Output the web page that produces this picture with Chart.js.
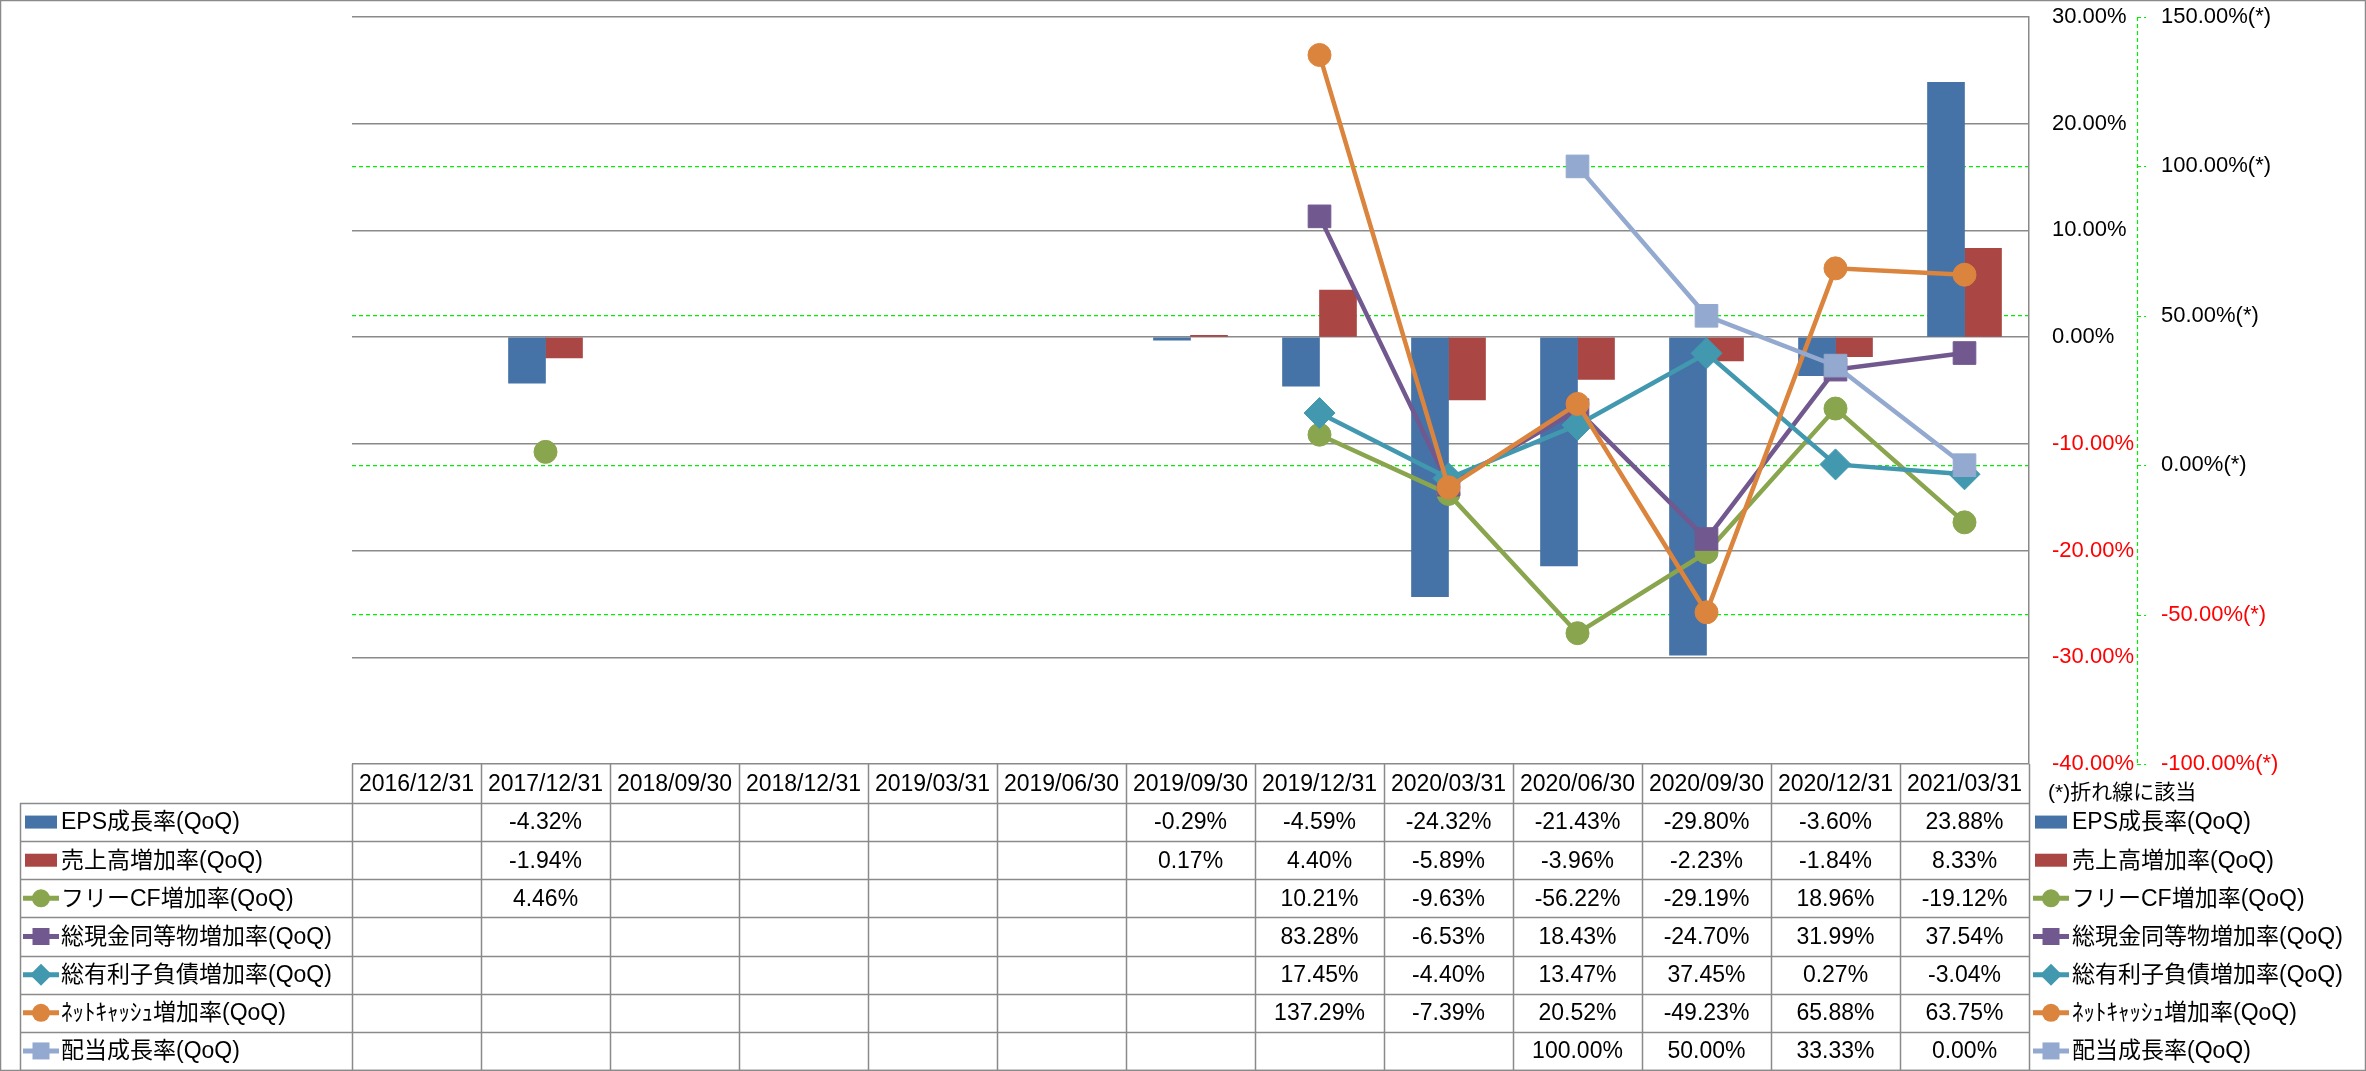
<!DOCTYPE html>
<html>
<head>
<meta charset="utf-8">
<script src="https://cdn.jsdelivr.net/npm/chart.js@4.4.0/dist/chart.umd.min.js"></script>
<style>
  html, body { margin: 0; padding: 0; background: #fff; overflow: hidden; }
</style>
</head>
<body>
<canvas id="growthChart" width="2366" height="1071" style="width:2366px; height:1071px"></canvas>
<script>
const periods = ['2016/12/31', '2017/12/31', '2018/09/30', '2018/12/31', '2019/03/31', '2019/06/30', '2019/09/30', '2019/12/31', '2020/03/31', '2020/06/30', '2020/09/30', '2020/12/31', '2021/03/31'];

// bars (left scale, %)
const epsGrowth = [null, -4.32, null, null, null, null, -0.29, -4.59, -24.32, -21.43, -29.80, -3.60, 23.88];
const salesGrowth = [null, -1.94, null, null, null, null, 0.17, 4.40, -5.89, -3.96, -2.23, -1.84, 8.33];

// lines (right scale, %)
const freeCfGrowth = [null, 4.46, null, null, null, null, null, 10.21, -9.63, -56.22, -29.19, 18.96, -19.12];
const cashGrowth = [null, null, null, null, null, null, null, 83.28, -6.53, 18.43, -24.70, 31.99, 37.54];
const debtGrowth = [null, null, null, null, null, null, null, 17.45, -4.40, 13.47, 37.45, 0.27, -3.04];
const netCashGrowth = [null, null, null, null, null, null, null, 137.29, -7.39, 20.52, -49.23, 65.88, 63.75];
const dividendGrowth = [null, null, null, null, null, null, null, null, null, 100.00, 50.00, 33.33, 0.00];

const barTicks = { min: -40, max: 30, step: 10 };
const lineTicks = { min: -100, max: 150, step: 50 };

const LATIN = "'Liberation Sans', 'Noto Sans CJK JP', sans-serif";
const GRAY = '#8a8a8a';
const GREEN = '#00ee00';
const CLEAR = 'rgba(0,0,0,0)';

const series = [
  { name: 'EPS成長率(QoQ)', data: epsGrowth, color: '#4572a7', kind: 'bar' },
  { name: '売上高増加率(QoQ)', data: salesGrowth, color: '#aa4643', kind: 'bar' },
  { name: 'フリーCF増加率(QoQ)', data: freeCfGrowth, color: '#89a54e', kind: 'line', style: 'circle' },
  { name: '総現金同等物増加率(QoQ)', data: cashGrowth, color: '#71588f', kind: 'line', style: 'rect' },
  { name: '総有利子負債増加率(QoQ)', data: debtGrowth, color: '#4198af', kind: 'line', style: 'rectRot' },
  { name: 'ﾈｯﾄｷｬｯｼｭ増加率(QoQ)', data: netCashGrowth, color: '#db843d', kind: 'line', style: 'circle' },
  { name: '配当成長率(QoQ)', data: dividendGrowth, color: '#93a9cf', kind: 'line', style: 'rect' },
];

const pointRadius = { circle: 11.5, rect: 16, rectRot: 15.5 };

const datasets = series.map((s, i) => {
  if (s.kind === 'bar') {
    return {
      type: 'bar',
      label: s.name,
      data: s.data,
      backgroundColor: s.color,
      borderWidth: 0,
      barThickness: 37,
      yAxisID: 'y',
      order: 10 + i,
    };
  }
  return {
    type: 'line',
    label: s.name,
    data: s.data,
    borderColor: s.color,
    backgroundColor: s.color,
    borderWidth: 4.5,
    tension: 0,
    spanGaps: false,
    pointStyle: s.style,
    pointRadius: pointRadius[s.style],
    pointHoverRadius: pointRadius[s.style],
    pointBorderWidth: 1,
    pointBackgroundColor: s.color,
    pointBorderColor: s.color,
    yAxisID: 'y2',
    order: 7 - i,
  };
});

function fmt(v) {
  return v.toFixed(2) + '%';
}

function buildTicks(cfg) {
  return scale => {
    const ticks = [];
    for (let v = cfg.min; v <= cfg.max; v += cfg.step) ticks.push({ value: v });
    scale.ticks = ticks;
  };
}

function drawMarker(ctx, style, x, y, r, color) {
  ctx.fillStyle = color;
  ctx.beginPath();
  if (style === 'circle') {
    ctx.arc(x, y, r, 0, Math.PI * 2);
  } else if (style === 'rect') {
    ctx.rect(x - r, y - r, 2 * r, 2 * r);
  } else {
    ctx.moveTo(x, y - r);
    ctx.lineTo(x + r, y);
    ctx.lineTo(x, y + r);
    ctx.lineTo(x - r, y);
    ctx.closePath();
  }
  ctx.fill();
}

function drawKey(ctx, s, x, cy) {
  if (s.kind === 'bar') {
    ctx.fillStyle = s.color;
    ctx.fillRect(x + 2, cy - 6.5, 32, 13);
    return;
  }
  ctx.strokeStyle = s.color;
  ctx.lineWidth = 5;
  ctx.beginPath();
  ctx.moveTo(x, cy);
  ctx.lineTo(x + 36, cy);
  ctx.stroke();
  const r = s.style === 'rectRot' ? 11 : s.style === 'rect' ? 8.5 : 9;
  drawMarker(ctx, s.style, x + 18, cy, r, s.color);
}

const tablePlugin = {
  id: 'dataTable',
  afterDraw(chart) {
    const ctx = chart.ctx;
    const area = chart.chartArea;
    const x = chart.scales.x;
    const y2 = chart.scales.y2;
    const colW = (area.right - area.left) / periods.length;
    const headTop = area.bottom;
    const headH = 39;
    const rowTop = headTop + headH;
    const rowH = (chart.height - 1 - rowTop) / series.length;
    const tableLeft = 20;

    ctx.save();

    // secondary axis line and its short tick marks (dashed green)
    ctx.strokeStyle = GREEN;
    ctx.lineWidth = 1.2;
    ctx.setLineDash([4, 3]);
    ctx.beginPath();
    ctx.moveTo(y2.left + 0.5, area.top);
    ctx.lineTo(y2.left + 0.5, area.bottom);
    y2.ticks.forEach(t => {
      const ty = Math.round(y2.getPixelForValue(t.value)) + 0.5;
      ctx.moveTo(y2.left, ty);
      ctx.lineTo(y2.left + 9, ty);
    });
    ctx.stroke();
    ctx.setLineDash([]);

    // grid of the data table
    ctx.strokeStyle = GRAY;
    ctx.lineWidth = 1.5;
    ctx.beginPath();
    for (let i = 0; i <= periods.length; i++) {
      const cx = Math.round(area.left + i * colW) + 0.5;
      ctx.moveTo(cx, headTop);
      ctx.lineTo(cx, chart.height - 1);
    }
    for (let r = 0; r <= series.length; r++) {
      const ry = Math.round(rowTop + r * rowH) + 0.5;
      ctx.moveTo(tableLeft, ry);
      ctx.lineTo(area.right, ry);
    }
    ctx.moveTo(tableLeft + 0.5, rowTop);
    ctx.lineTo(tableLeft + 0.5, chart.height - 1);
    ctx.stroke();

    // outer frame of the whole chart
    ctx.strokeRect(0.5, 0.5, chart.width - 1, chart.height - 1);

    // header + values
    ctx.fillStyle = '#000';
    ctx.font = '23px ' + LATIN;
    ctx.textAlign = 'center';
    ctx.textBaseline = 'middle';
    periods.forEach((p, i) => {
      const cx = x.getPixelForValue(i);
      ctx.fillText(p, cx, headTop + headH / 2 + 1);
      series.forEach((s, r) => {
        const v = s.data[i];
        if (v === null || v === undefined) return;
        ctx.fillText(fmt(v), cx, rowTop + r * rowH + rowH / 2 + 1);
      });
    });

    // legend keys inside the table and on the right
    ctx.textAlign = 'left';
    series.forEach((s, r) => {
      const cy = rowTop + r * rowH + rowH / 2;
      drawKey(ctx, s, 23, cy);
      drawKey(ctx, s, 2033, cy);
      ctx.fillStyle = '#000';
      ctx.font = '23px ' + LATIN;
      ctx.fillText(s.name, 61, cy + 1);
      ctx.fillText(s.name, 2072, cy + 1);
    });

    ctx.font = '21px ' + LATIN;
    ctx.fillText('(*)折れ線に該当', 2048, headTop + 29);

    ctx.restore();
  },
};

new Chart(document.getElementById('growthChart'), {
  type: 'bar',
  data: {
    labels: periods,
    datasets: datasets,
  },
  options: {
    responsive: false,
    animation: false,
    devicePixelRatio: 1,
    events: [],
    layout: {
      padding: { left: 352, top: 15, right: 0, bottom: 307 },
    },
    plugins: {
      legend: { display: false },
      tooltip: { enabled: false },
    },
    scales: {
      x: {
        type: 'category',
        display: false,
        offset: true,
        grid: { display: false },
      },
      y: {
        position: 'right',
        weight: 0,
        min: barTicks.min,
        max: barTicks.max,
        afterFit: scale => { scale.width = 108; },
        afterBuildTicks: buildTicks(barTicks),
        border: { display: true, color: GRAY, width: 1.5 },
        grid: {
          color: GRAY,
          lineWidth: 1.5,
          drawTicks: true,
          tickLength: 23,
          tickColor: CLEAR,
        },
        ticks: {
          padding: 0,
          crossAlign: 'near',
          font: { family: LATIN, size: 22 },
          color: c => (c.tick && c.tick.value < 0 ? '#ff0000' : '#000000'),
          callback: v => fmt(v),
        },
      },
      y2: {
        position: 'right',
        weight: 1,
        min: lineTicks.min,
        max: lineTicks.max,
        afterFit: scale => { scale.width = 229; },
        afterBuildTicks: buildTicks(lineTicks),
        border: { display: false, dash: [4, 3] },
        grid: {
          color: c => (c.tick && (c.tick.value === lineTicks.min || c.tick.value === lineTicks.max) ? CLEAR : GREEN),
          lineWidth: 1.2,
          drawTicks: true,
          tickLength: 24,
          tickColor: CLEAR,
        },
        ticks: {
          padding: 0,
          crossAlign: 'near',
          font: { family: LATIN, size: 22 },
          color: c => (c.tick && c.tick.value < 0 ? '#ff0000' : '#000000'),
          callback: v => fmt(v) + '(*)',
        },
      },
    },
  },
  plugins: [tablePlugin],
});
</script>
</body>
</html>
